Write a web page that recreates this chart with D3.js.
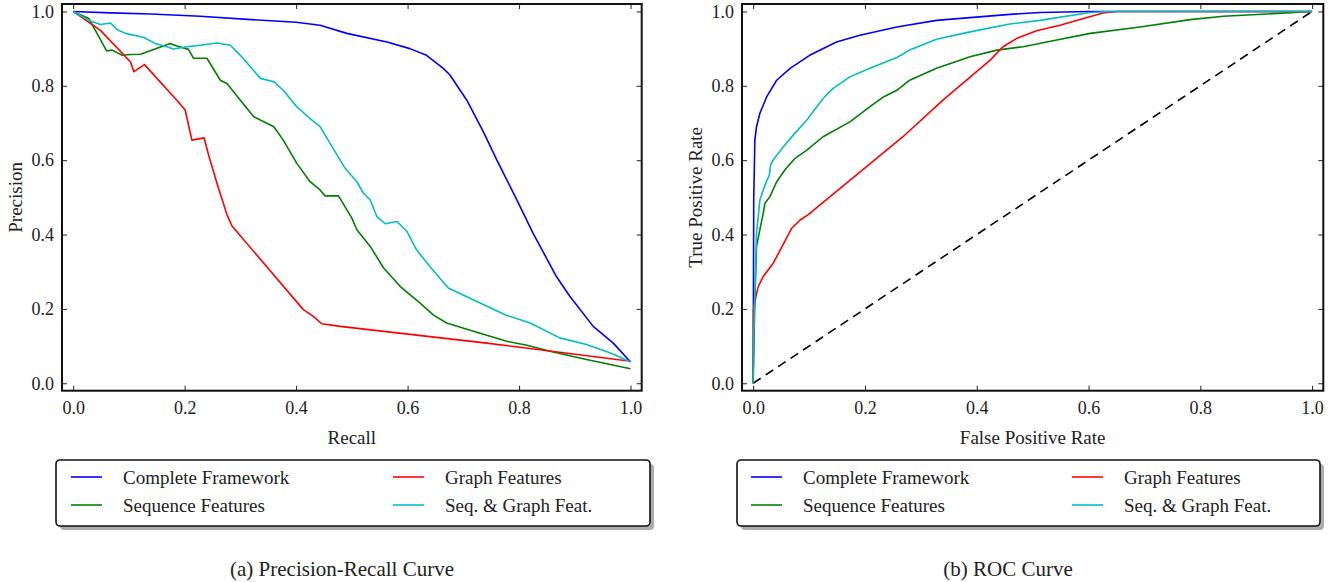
<!DOCTYPE html>
<html lang="en">
<head>
<meta charset="UTF-8">
<title>Precision-Recall and ROC Curves</title>
<style>
  body { margin: 0; background: #fff; }
  svg { display: block; }
  .tick line { stroke: #222; stroke-width: 1; }
  .axis-title { font-family: "Liberation Serif", "Times New Roman", serif; font-size: 19px; fill: #222; }
  .legend-text { font-family: "Liberation Serif", "Times New Roman", serif; font-size: 19px; fill: #222; }
  .caption { font-family: "Liberation Serif", "Times New Roman", serif; font-size: 21px; fill: #222; }
</style>
</head>
<body>
<div id="chart"></div>
<script src="https://d3js.org/d3.v7.min.js"></script>
<script>
// series names and colours (legend order, matplotlib column-first)
const seriesNames = ["Complete Framework", "Sequence Features", "Graph Features", "Seq. & Graph Feat."];
const seriesColors = ["#0000ff", "#008000", "#ff0000", "#00bfbf"];
const tickValues = [0, 0.2, 0.4, 0.6, 0.8, 1.0];

// Precision-Recall curves: [recall, precision]
const prComplete = [[0,1.0],[0.067,0.996],[0.14,0.993],[0.228,0.987],[0.32,0.978],[0.40,0.971],
  [0.443,0.963],[0.491,0.941],[0.563,0.918],[0.604,0.900],[0.634,0.882],[0.664,0.847],[0.676,0.829],
  [0.706,0.762],[0.736,0.676],[0.760,0.601],[0.796,0.493],[0.825,0.404],[0.867,0.287],[0.891,0.234],
  [0.933,0.153],[0.969,0.108],[1.0,0.057]];
const prSequence = [[0,1.0],[0.028,0.981],[0.046,0.932],[0.060,0.894],[0.070,0.896],[0.088,0.882],
  [0.103,0.884],[0.121,0.885],[0.174,0.914],[0.186,0.907],[0.207,0.898],[0.216,0.874],[0.240,0.874],
  [0.264,0.815],[0.276,0.806],[0.300,0.761],[0.324,0.717],[0.360,0.690],[0.377,0.654],[0.401,0.592],
  [0.425,0.542],[0.443,0.520],[0.452,0.504],[0.476,0.504],[0.500,0.444],[0.509,0.413],[0.533,0.368],
  [0.557,0.310],[0.587,0.260],[0.622,0.216],[0.646,0.184],[0.670,0.162],[0.718,0.140],[0.778,0.113],
  [0.814,0.102],[0.861,0.084],[0.921,0.064],[1.0,0.039]];
const prGraph = [[0,1.0],[0.049,0.949],[0.103,0.864],[0.109,0.838],[0.128,0.857],[0.186,0.761],
  [0.201,0.735],[0.213,0.654],[0.235,0.660],[0.243,0.614],[0.258,0.538],[0.276,0.453],[0.285,0.423],
  [0.413,0.198],[0.431,0.180],[0.446,0.160],[0.479,0.153],[0.742,0.108],[1.0,0.059]];
const prSeqGraph = [[0,1.0],[0.031,0.974],[0.049,0.965],[0.067,0.969],[0.079,0.951],[0.094,0.941],
  [0.127,0.930],[0.147,0.914],[0.168,0.905],[0.180,0.899],[0.204,0.905],[0.228,0.909],[0.258,0.915],
  [0.282,0.909],[0.300,0.882],[0.336,0.820],[0.360,0.811],[0.377,0.788],[0.401,0.744],[0.425,0.712],
  [0.443,0.690],[0.461,0.645],[0.488,0.578],[0.509,0.542],[0.521,0.511],[0.533,0.493],[0.545,0.448],
  [0.560,0.429],[0.581,0.435],[0.599,0.408],[0.616,0.359],[0.640,0.314],[0.673,0.256],[0.775,0.184],
  [0.820,0.162],[0.873,0.122],[0.921,0.104],[0.963,0.082],[1.0,0.057]];

// ROC curves: [false positive rate, true positive rate]
const rocComplete = [[0,0],[0.001,0.493],[0.003,0.654],[0.006,0.690],[0.012,0.726],[0.024,0.770],
  [0.042,0.815],[0.066,0.847],[0.101,0.882],[0.149,0.918],[0.191,0.936],[0.257,0.958],[0.328,0.976],
  [0.459,0.992],[0.513,0.997],[0.603,1.0],[1.0,1.0]];
const rocSequence = [[0,0],[0.003,0.225],[0.006,0.368],[0.012,0.413],[0.018,0.457],[0.021,0.484],
  [0.030,0.502],[0.042,0.542],[0.057,0.574],[0.075,0.605],[0.096,0.627],[0.125,0.663],[0.173,0.703],
  [0.209,0.744],[0.233,0.770],[0.257,0.788],[0.280,0.815],[0.328,0.847],[0.388,0.878],[0.436,0.896],
  [0.483,0.905],[0.543,0.923],[0.603,0.941],[0.692,0.958],[0.782,0.978],[0.841,0.987],[0.931,0.994],[1.0,1.0]];
const rocGraph = [[0,0],[0.0005,0.198],[0.005,0.234],[0.009,0.260],[0.018,0.287],[0.036,0.323],
  [0.069,0.417],[0.084,0.439],[0.098,0.453],[0.268,0.663],[0.340,0.762],[0.424,0.869],[0.447,0.905],
  [0.471,0.927],[0.507,0.948],[0.549,0.963],[0.591,0.981],[0.626,0.996],[0.650,1.0],[1.0,1.0]];
const rocSeqGraph = [[0,0],[0.001,0.135],[0.006,0.404],[0.012,0.493],[0.021,0.533],[0.029,0.560],
  [0.031,0.587],[0.036,0.601],[0.054,0.636],[0.072,0.668],[0.096,0.708],[0.125,0.766],[0.143,0.793],
  [0.173,0.824],[0.209,0.847],[0.257,0.876],[0.280,0.896],[0.328,0.925],[0.388,0.945],[0.459,0.966],
  [0.513,0.976],[0.603,0.997],[0.638,1.0],[1.0,1.0]];
const chanceLine = [[0,0],[1,1]];

const width = 1337, height = 582;
const serif = '"Liberation Serif", "Times New Roman", serif';
const svg = d3.select("#chart").append("svg")
  .attr("width", width).attr("height", height);

function drawPanel(p) {
  const x = d3.scaleLinear().domain([-0.02, 1.02]).range([p.left, p.right]);
  const y = d3.scaleLinear().domain([-0.02, 1.02]).range([p.bottom, p.top]);
  const g = svg.append("g");
  const fmt = d3.format(".1f");

  // inward ticks on all four sides
  const axes = [
    [d3.axisBottom(x).tickFormat(fmt).tickPadding(11), `translate(0,${p.bottom})`],
    [d3.axisTop(x).tickFormat(""), `translate(0,${p.top})`],
    [d3.axisLeft(y).tickFormat(fmt).tickPadding(8), `translate(${p.left},0)`],
    [d3.axisRight(y).tickFormat(""), `translate(${p.right},0)`]
  ];
  axes.forEach(([ax, tr]) => {
    const a = g.append("g").attr("transform", tr)
      .call(ax.tickValues(tickValues).tickSizeInner(-5).tickSizeOuter(0));
    a.attr("font-family", serif).attr("font-size", 18);
    a.selectAll(".tick text").attr("fill", "#222");
    a.select(".domain").remove();
  });

  // curves
  const line = d3.line().x(d => x(d[0])).y(d => y(d[1]));
  const clip = "clip-" + p.id;
  svg.append("clipPath").attr("id", clip).append("rect")
    .attr("x", p.left).attr("y", p.top)
    .attr("width", p.right - p.left).attr("height", p.bottom - p.top);
  const curves = g.append("g").attr("clip-path", `url(#${clip})`);
  if (p.diagonal) {
    curves.append("path").attr("d", line(p.diagonal))
      .attr("fill", "none").attr("stroke", "#000")
      .attr("stroke-width", 1.6).attr("stroke-dasharray", "9,6");
  }
  p.series.forEach((s, i) => {
    curves.append("path").attr("d", line(s))
      .attr("fill", "none").attr("stroke", seriesColors[i])
      .attr("stroke-width", 1.6).attr("stroke-linejoin", "round");
  });

  // frame
  g.append("rect")
    .attr("x", p.left).attr("y", p.top)
    .attr("width", p.right - p.left).attr("height", p.bottom - p.top)
    .attr("fill", "none").attr("stroke", "#111").attr("stroke-width", 2);

  // axis titles
  g.append("text").attr("class", "axis-title")
    .attr("x", (p.left + p.right) / 2).attr("y", 444)
    .attr("text-anchor", "middle").text(p.xTitle);
  g.append("text").attr("class", "axis-title")
    .attr("transform", `translate(${p.yTitleX},${(p.top + p.bottom) / 2}) rotate(-90)`)
    .attr("text-anchor", "middle").attr("dy", "0.35em").text(p.yTitle);

  // legend
  const L = p.legend;
  g.append("rect").attr("x", L.x + 4).attr("y", L.y + 4)
    .attr("width", L.w).attr("height", L.h).attr("rx", 4)
    .attr("fill", "#999").attr("opacity", 0.8);
  g.append("rect").attr("x", L.x).attr("y", L.y)
    .attr("width", L.w).attr("height", L.h).attr("rx", 4)
    .attr("fill", "#fff").attr("stroke", "#111").attr("stroke-width", 1.6);
  const rows = [L.y + 17, L.y + 45];
  seriesNames.forEach((name, i) => {
    const col = Math.floor(i / 2), row = i % 2;
    const lx = L.cols[col];
    g.append("line").attr("x1", lx).attr("x2", lx + 31)
      .attr("y1", rows[row]).attr("y2", rows[row])
      .attr("stroke", seriesColors[i]).attr("stroke-width", 1.6);
    g.append("text").attr("class", "legend-text")
      .attr("x", lx + 52).attr("y", rows[row]).attr("dy", "0.35em").text(name);
  });

  // caption
  g.append("text").attr("class", "caption")
    .attr("x", p.captionX).attr("y", 576)
    .attr("text-anchor", "middle").text(p.caption);
}

drawPanel({
  id: "pr", left: 62, right: 641.7, top: 4, bottom: 390.7,
  series: [prComplete, prSequence, prGraph, prSeqGraph],
  xTitle: "Recall", yTitle: "Precision", yTitleX: 15,
  legend: { x: 56, y: 460, w: 594, h: 66, cols: [71, 393] },
  caption: "(a) Precision-Recall Curve", captionX: 342
});

drawPanel({
  id: "roc", left: 742, right: 1323.3, top: 4, bottom: 390.7,
  series: [rocComplete, rocSequence, rocGraph, rocSeqGraph],
  diagonal: chanceLine,
  xTitle: "False Positive Rate", yTitle: "True Positive Rate", yTitleX: 695,
  legend: { x: 737, y: 460, w: 583, h: 66, cols: [751, 1072] },
  caption: "(b) ROC Curve", captionX: 1008
});
</script>
</body>
</html>
